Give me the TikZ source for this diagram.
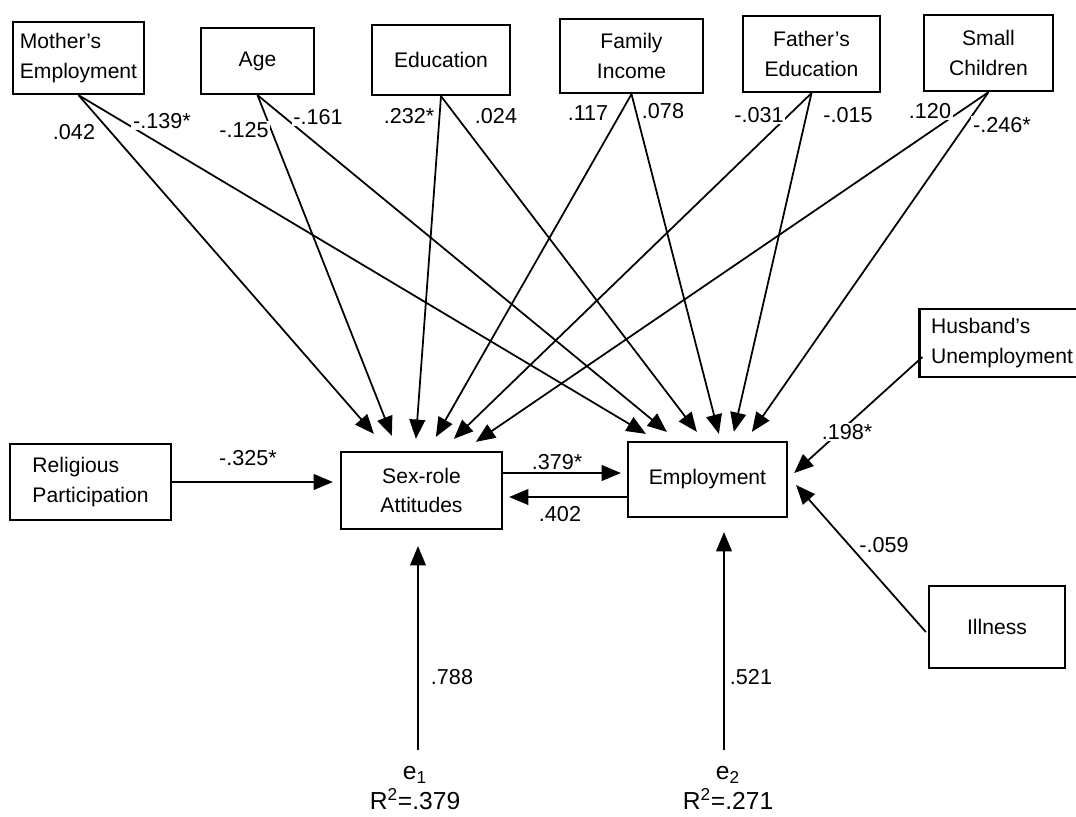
\documentclass[tikz,border=0pt]{standalone}
\usepackage{fontspec}
\setmainfont{Liberation Sans}
\usetikzlibrary{arrows.meta,calc}

\tikzset{
  var/.style={draw, line width=1.3pt, inner sep=2pt, align=center, font=\fontsize{12}{17}\selectfont},
  varl/.style={var, align=left},
  arr/.style={line width=1pt, -{Triangle[length=11pt,width=9pt]}},
  coef/.style={fill=white, inner sep=1pt, font=\fontsize{12.3}{14}\selectfont},
  err/.style={inner sep=1pt, align=center, font=\fontsize{14}{17}\selectfont}
}

\begin{document}
\begin{tikzpicture}[x=0.02cm, y=-0.02cm]
\useasboundingbox (0,0) rectangle (1076,816);
\node[varl, minimum width=2.62cm, minimum height=1.44cm] (mom) at (78.5,58) {Mother's\\Employment};
\node[var, minimum width=2.26cm, minimum height=1.32cm] (age) at (257.5,61) {Age};
\node[var, minimum width=2.76cm, minimum height=1.40cm] (edu) at (441,60) {Education};
\node[var, minimum width=2.86cm, minimum height=1.48cm] (inc) at (631.5,56) {Family\\Income};
\node[var, minimum width=2.74cm, minimum height=1.52cm] (fed) at (811.5,54) {Father's\\Education};
\node[var, minimum width=2.58cm, minimum height=1.52cm] (kids) at (988.5,53) {Small\\Children};
\node[varl, minimum width=3.3cm, minimum height=1.36cm] (hus) at (1002,343) {Husband's\\Unemployment};
\node[varl, minimum width=3.22cm, minimum height=1.52cm] (rel) at (90.5,482) {Religious\\Participation};
\node[var, minimum width=3.22cm, minimum height=1.54cm] (sex) at (421.5,490.5) {Sex-role\\Attitudes};
\node[var, minimum width=3.18cm, minimum height=1.50cm] (emp) at (707.5,479.5) {Employment};
\node[var, minimum width=2.72cm, minimum height=1.64cm] (ill) at (997,627) {Illness};
\node[err] (err1) at (415,788) {e\textsubscript{1}\\R\textsuperscript{2}=.379};
\node[err] (err2) at (728,788) {e\textsubscript{2}\\R\textsuperscript{2}=.271};

\draw[arr] (mom.south) -- ($(sex.north west)+(34,-17)$);
\draw[arr] (mom.south) -- ($(emp.north west)+(19,-7)$);
\draw[arr] (age.south) -- ($(sex.north west)+(52,-15)$);
\draw[arr] (age.south) -- ($(emp.north west)+(40,-9)$);
\draw[arr] (edu.south) -- ($(sex.north west)+(76,-12)$);
\draw[arr] (edu.south) -- ($(emp.north west)+(70,-9)$);
\draw[arr] (inc.south) -- ($(sex.north west)+(96,-14)$);
\draw[arr] (inc.south) -- ($(emp.north west)+(92,-7)$);
\draw[arr] (fed.south) -- ($(sex.north west)+(114,-12)$);
\draw[arr] (fed.south) -- ($(emp.north west)+(107,-9)$);
\draw[arr] (kids.south) -- ($(sex.north west)+(136,-9)$);
\draw[arr] (kids.south) -- ($(emp.north west)+(125,-9)$);

\draw[arr] (rel.east) -- ($(rel.east -| sex.west)+(-7,0)$);
\draw[arr] ($(emp.west -| sex.east)+(0,-6.5)$) -- ($(emp.west)+(-6,-6.5)$);
\draw[arr] ($(emp.west)+(0,17.5)$) -- ($(emp.west -| sex.east)+(6,17.5)$);
\draw[arr] ($(hus.west)+(4,14)$) -- ($(emp.east)+(6,-6.5)$);
\draw[arr] ($(ill.west)+(-2,5)$) -- ($(emp.east)+(8,5.5)$);
\draw[arr] ($(err1.north)+(3,-14)$) -- ($(err1.north |- sex.south)+(3,16)$);
\draw[arr] ($(err2.north)+(-4,-14)$) -- ($(err2.north |- emp.south)+(-4,14)$);

\node[coef] (c1) at (74,132) {.042};
\node[coef] (c2) at (162,121) {-.139*};
\node[coef] (c3) at (244,130) {-.125};
\node[coef] (c4) at (318,117) {-.161};
\node[coef] (c5) at (409,116) {.232*};
\node[coef] (c6) at (496,116) {.024};
\node[coef] (c7) at (588,113) {.117};
\node[coef] (c8) at (663,111) {.078};
\node[coef] (c9) at (759,115) {-.031};
\node[coef] (c10) at (848,115) {-.015};
\node[coef] (c11) at (930,111) {.120};
\node[coef] (c12) at (1002,125) {-.246*};
\node[coef] (c13) at (248,458) {-.325*};
\node[coef] (c14) at (557,462) {.379*};
\node[coef] (c15) at (560,514) {.402};
\node[coef] (c16) at (847,432) {.198*};
\node[coef] (c17) at (884,545) {-.059};
\node[coef] (c18) at (452,677) {.788};
\node[coef] (c19) at (751,677) {.521};
\end{tikzpicture}
\end{document}
